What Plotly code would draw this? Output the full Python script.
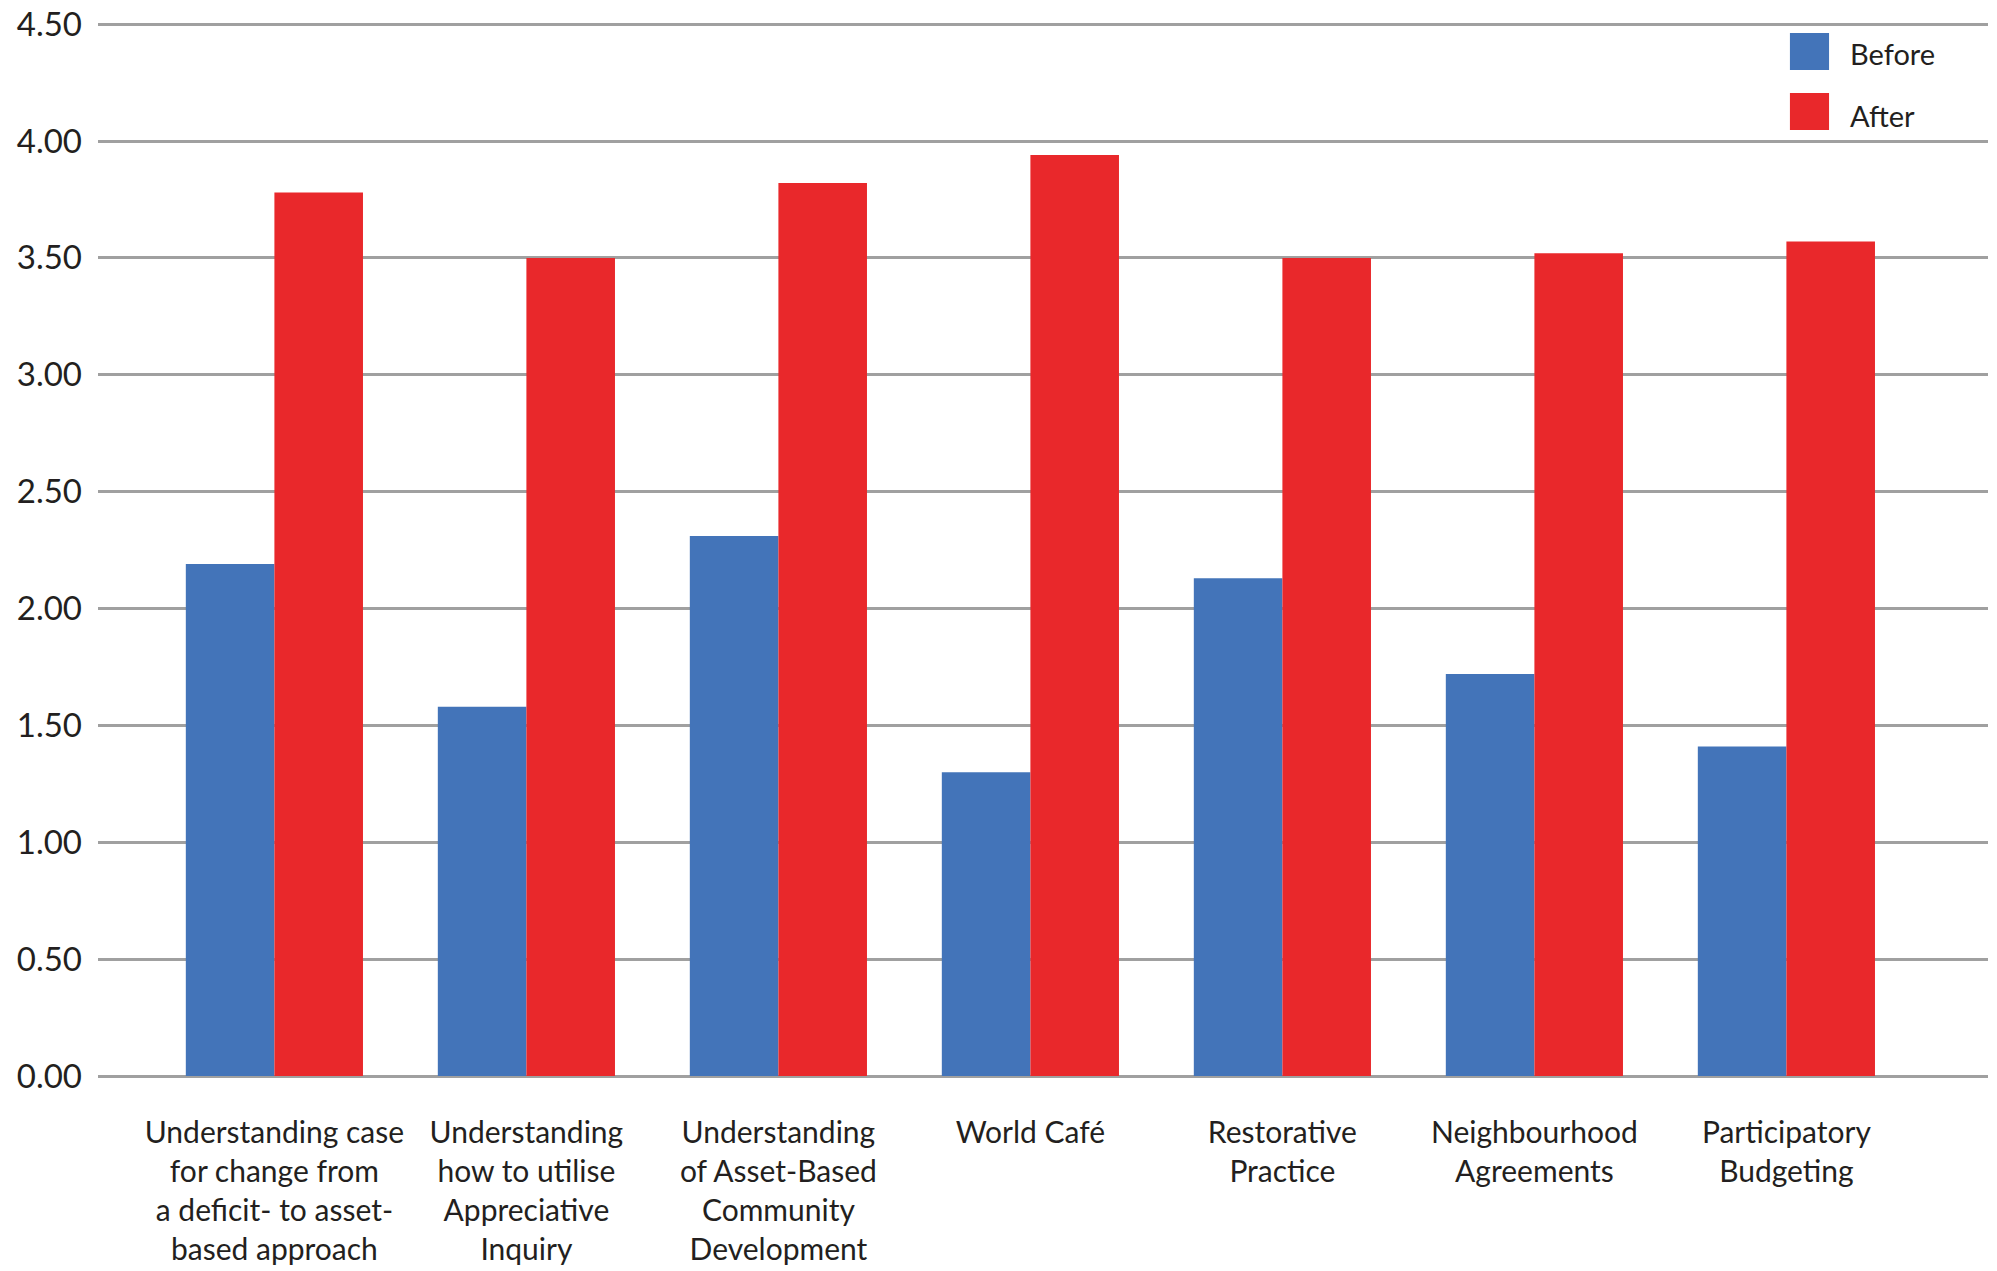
import plotly.graph_objects as go

categories = [
    "Understanding case<br>for change from<br>a deficit- to asset-<br>based approach",
    "Understanding<br>how to utilise<br>Appreciative<br>Inquiry",
    "Understanding<br>of Asset-Based<br>Community<br>Development",
    "World Café",
    "Restorative<br>Practice",
    "Neighbourhood<br>Agreements",
    "Participatory<br>Budgeting",
]
before = [2.19, 1.58, 2.31, 1.30, 2.13, 1.72, 1.41]
after = [3.78, 3.50, 3.82, 3.94, 3.50, 3.52, 3.57]
series_names = ["Before", "After"]
y_ticks = [0, 0.5, 1.0, 1.5, 2.0, 2.5, 3.0, 3.5, 4.0, 4.5]

BLUE = "#4374B9"
RED = "#E9282B"
GRID = "#A0A0A0"
TEXT = "#231F20"
FONT = "Lato"

fig = go.Figure()
fig.add_trace(go.Bar(x=list(range(len(categories))), y=before, name=series_names[0],
                     marker=dict(color=BLUE, line=dict(width=0))))
fig.add_trace(go.Bar(x=list(range(len(categories))), y=after, name=series_names[1],
                     marker=dict(color=RED, line=dict(width=0))))

fig.update_layout(
    width=1997, height=1271,
    margin=dict(l=98, r=9, t=23, b=195, autoexpand=False),
    paper_bgcolor="white", plot_bgcolor="white",
    barmode="group", bargap=0.297, bargroupgap=0,
    showlegend=False,
    font=dict(family=FONT, color=TEXT),
)
fig.update_xaxes(
    tickmode="array", tickvals=list(range(len(categories))), ticktext=categories,
    range=[-0.70, 6.80], showgrid=False, showline=False, zeroline=False,
    ticks="", tickfont=dict(family=FONT, size=30, color=TEXT), ticklabelstandoff=36,
    automargin=False,
)
fig.update_yaxes(
    range=[0, 4.505], tickvals=y_ticks, tickformat=".2f",
    showgrid=True, gridcolor=GRID, gridwidth=2.5,
    zeroline=True, zerolinecolor=GRID, zerolinewidth=2.5,
    showline=False, ticks="", ticklabelstandoff=15,
    tickfont=dict(family=FONT, size=33, color=TEXT),
    automargin=False,
)

# Legend drawn manually to match the large swatches
legend_items = [
    (series_names[0], BLUE, 0.9905, 0.9554, 0.9710),
    (series_names[1], RED, 0.9335, 0.8984, 0.9117),
]
for name, color, y1, y0, ty in legend_items:
    fig.add_shape(type="rect", xref="paper", yref="paper",
                  x0=0.8952, x1=0.9159, y0=y0, y1=y1,
                  fillcolor=color, line=dict(width=0))
    fig.add_annotation(xref="paper", yref="paper", x=0.9257, y=ty,
                       text=name, showarrow=False, xanchor="left", yanchor="middle",
                       font=dict(family=FONT, size=29, color=TEXT))

fig.write_html("out.html")
